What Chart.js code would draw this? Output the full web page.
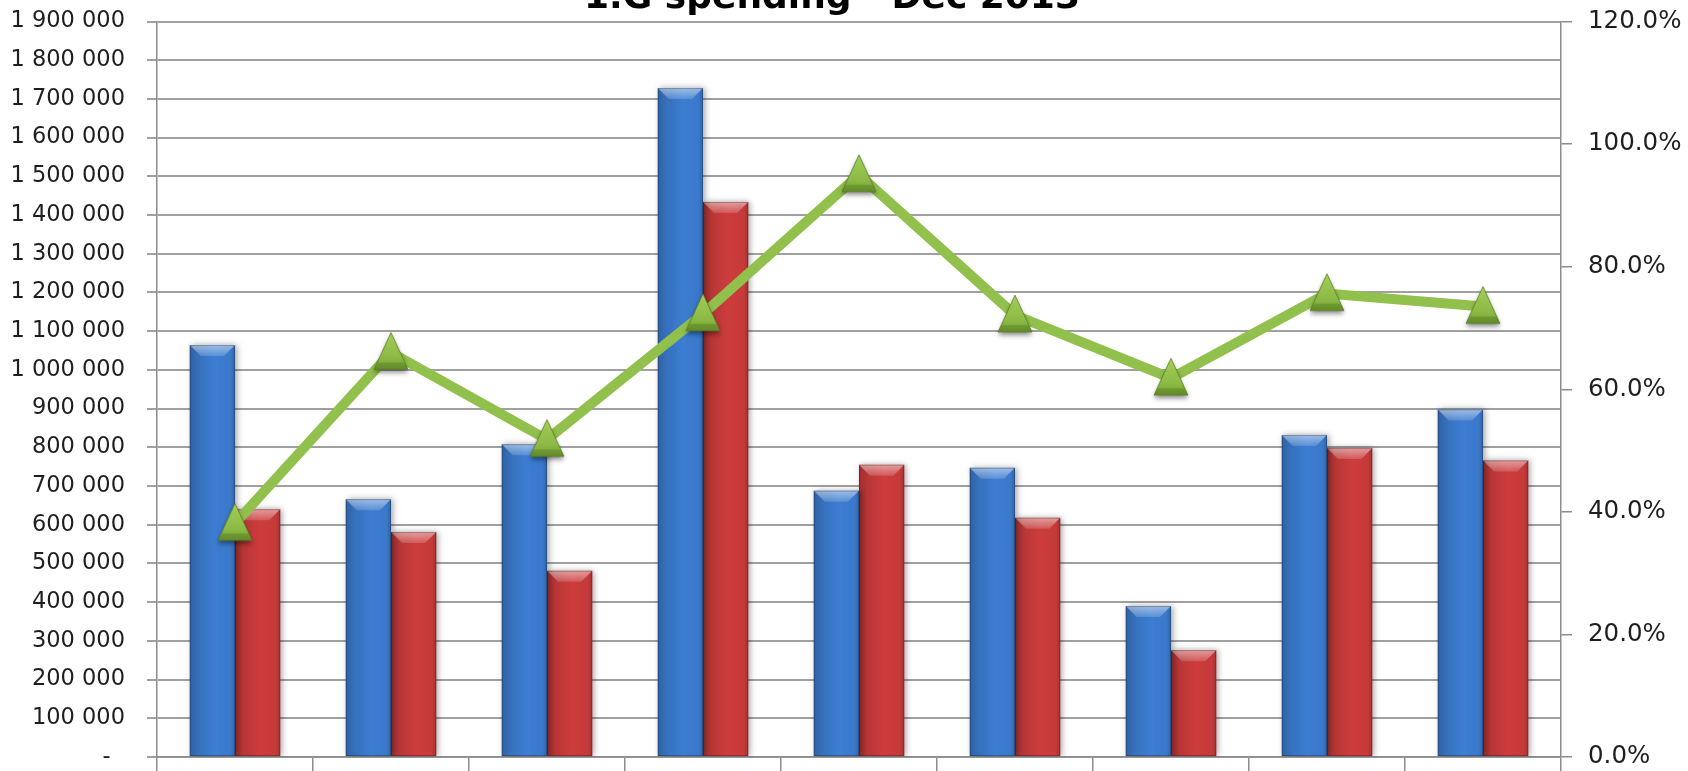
<!DOCTYPE html>
<html>
<head>
<meta charset="utf-8">
<script src="https://cdn.jsdelivr.net/npm/chart.js@4.4.1/dist/chart.umd.min.js"></script>
<style>
  html, body { margin: 0; padding: 0; background: #fff; overflow: hidden; }
  canvas { display: block; }
</style>
</head>
<body>
<canvas id="myChart" width="1688" height="771"></canvas>
<script>
// data
const title = '1.G spending - Dec 2013';
const categories = ['1', '2', '3', '4', '5', '6', '7', '8', '9']; // labels are cut off in the picture
const blueValues = [1064000, 666000, 808000, 1728000, 688000, 747000, 390000, 832000, 898000];
const redValues = [640000, 581000, 481000, 1434000, 755000, 618000, 276000, 798000, 766000];
const percentValues = [38.1, 66.0, 51.8, 72.3, 95.0, 72.1, 61.8, 75.6, 73.5];
const leftMax = 1900000;
const leftStep = 100000;
const rightMax = 120;
const rightStep = 20;

const fontFamily = '"DejaVu Sans", sans-serif';

// green 3D-looking triangle marker
function makeTriangle() {
  const c = document.createElement('canvas');
  c.width = 48;
  c.height = 50;
  const t = c.getContext('2d');
  const cx = 24, top = 5, base = 42, half = 17;
  const path = () => {
    t.beginPath();
    t.moveTo(cx, top); t.lineTo(cx + half, base); t.lineTo(cx - half, base); t.closePath();
  };
  // soft shadow
  t.save();
  t.shadowColor = 'rgba(0,0,0,0.45)';
  t.shadowBlur = 5;
  t.shadowOffsetY = 3;
  t.fillStyle = '#7aa535';
  path();
  t.fill();
  t.restore();
  const g = t.createLinearGradient(0, top, 0, base);
  g.addColorStop(0, '#a4ce58');
  g.addColorStop(0.7, '#8bba44');
  g.addColorStop(1, '#719c31');
  t.fillStyle = g;
  path();
  t.fill();
  // darker base band
  t.fillStyle = 'rgba(60,90,20,0.25)';
  t.beginPath();
  t.moveTo(cx - half, base); t.lineTo(cx + half, base); t.lineTo(cx + half - 4, base - 7); t.lineTo(cx - half + 4, base - 7); t.closePath();
  t.fill();
  t.strokeStyle = 'rgba(80,110,30,0.6)';
  t.lineWidth = 1;
  path();
  t.stroke();
  return c;
}

// 3D-ish bevel on top of each bar
const bevelPlugin = {
  id: 'bevel',
  beforeDatasetDraw(chart, args) {
    if (args.meta.type !== 'bar') return;
    const ctx = chart.ctx;
    ctx.save();
    ctx.shadowColor = 'rgba(0,0,0,0.35)';
    ctx.shadowBlur = 6;
    ctx.shadowOffsetX = 2;
  },
  afterDatasetDraw(chart, args) {
    if (args.meta.type !== 'bar') return;
    const ctx = chart.ctx;
    ctx.restore();
    args.meta.data.forEach(bar => {
      const left = bar.x - bar.width / 2;
      const right = bar.x + bar.width / 2;
      const top = bar.y;
      const bottom = bar.base;
      const b = 11;
      // side shading
      const g = ctx.createLinearGradient(left, 0, right, 0);
      g.addColorStop(0, 'rgba(0,0,0,0.22)');
      g.addColorStop(0.2, 'rgba(0,0,0,0.10)');
      g.addColorStop(0.55, 'rgba(0,0,0,0)');
      g.addColorStop(0.9, 'rgba(0,0,0,0.04)');
      g.addColorStop(1, 'rgba(0,0,0,0.18)');
      ctx.fillStyle = g;
      ctx.fillRect(left, top, right - left, bottom - top);
      // top bevel
      const tg = ctx.createLinearGradient(0, top, 0, top + b);
      tg.addColorStop(0, 'rgba(255,255,255,0.5)');
      tg.addColorStop(1, 'rgba(255,255,255,0.15)');
      ctx.fillStyle = tg;
      ctx.beginPath();
      ctx.moveTo(left, top);
      ctx.lineTo(right, top);
      ctx.lineTo(right - b, top + b);
      ctx.lineTo(left + b, top + b);
      ctx.closePath();
      ctx.fill();
      // outline
      ctx.strokeStyle = 'rgba(0,0,0,0.25)';
      ctx.lineWidth = 1;
      ctx.strokeRect(left + 0.5, top + 0.5, right - left - 1, bottom - top - 1);
    });
  }
};

// title, only its lower part shows at the top edge
const titlePlugin = {
  id: 'topTitle',
  afterDraw(chart) {
    const ctx = chart.ctx;
    ctx.save();
    ctx.font = 'bold 36px ' + fontFamily;
    ctx.fillStyle = '#000';
    ctx.textAlign = 'center';
    ctx.textBaseline = 'alphabetic';
    ctx.fillText(title, 832, 7.5);
    ctx.restore();
  }
};

function spaced(v) {
  if (v === 0) return '-  ';
  return String(v).replace(/\B(?=(\d{3})+(?!\d))/g, ' ');
}

function fitY(width) {
  return s => {
    s.width = width;
    s.paddingTop = 0;
    s.paddingBottom = 0;
  };
}

const ctx = document.getElementById('myChart').getContext('2d');
const myChart = new Chart(ctx, {
  type: 'bar',
  data: {
    labels: categories,
    datasets: [
      {
        type: 'line',
        label: '%',
        data: percentValues,
        yAxisID: 'y1',
        order: 0,
        borderColor: '#92c04c',
        borderWidth: 10,
        pointStyle: makeTriangle(),
        tension: 0
      },
      {
        label: 'Blue',
        data: blueValues,
        yAxisID: 'y',
        order: 1,
        backgroundColor: '#3c7dd2',
        categoryPercentage: 0.58,
        barPercentage: 1
      },
      {
        label: 'Red',
        data: redValues,
        yAxisID: 'y',
        order: 2,
        backgroundColor: '#cd3c3c',
        categoryPercentage: 0.58,
        barPercentage: 1
      }
    ]
  },
  options: {
    responsive: false,
    animation: false,
    layout: { padding: { top: 21.5, left: 0, right: 0, bottom: 0 } },
    plugins: {
      legend: { display: false },
      title: { display: false },
      tooltip: { enabled: false }
    },
    scales: {
      x: {
        offset: true,
        grid: {
          offset: true,
          drawOnChartArea: false,
          color: '#8c8c8c',
          lineWidth: 1.5,
          tickLength: 14
        },
        border: { color: '#8c8c8c', width: 1.5 },
        ticks: { display: false },
        afterFit: s => { s.height = 13; }
      },
      y: {
        position: 'left',
        min: 0,
        max: leftMax,
        grid: { color: '#a0a0a0', lineWidth: 2, tickLength: 10 },
        border: { color: '#8c8c8c', width: 1.5 },
        ticks: {
          stepSize: leftStep,
          autoSkip: false,
          maxTicksLimit: 30,
          padding: 22,
          color: '#1e1e1e',
          font: { family: fontFamily, size: 22.5 },
          callback: v => spaced(v)
        },
        afterFit: fitY(157)
      },
      y1: {
        position: 'right',
        min: 0,
        max: rightMax,
        grid: { drawOnChartArea: false, color: '#8c8c8c', lineWidth: 1.5, tickLength: 11 },
        border: { color: '#8c8c8c', width: 1.5 },
        ticks: {
          stepSize: rightStep,
          autoSkip: false,
          padding: 16,
          color: '#1e1e1e',
          font: { family: fontFamily, size: 24.5 },
          callback: v => v.toFixed(1) + '%'
        },
        afterFit: fitY(127)
      }
    }
  },
  plugins: [bevelPlugin, titlePlugin]
});
</script>
</body>
</html>
